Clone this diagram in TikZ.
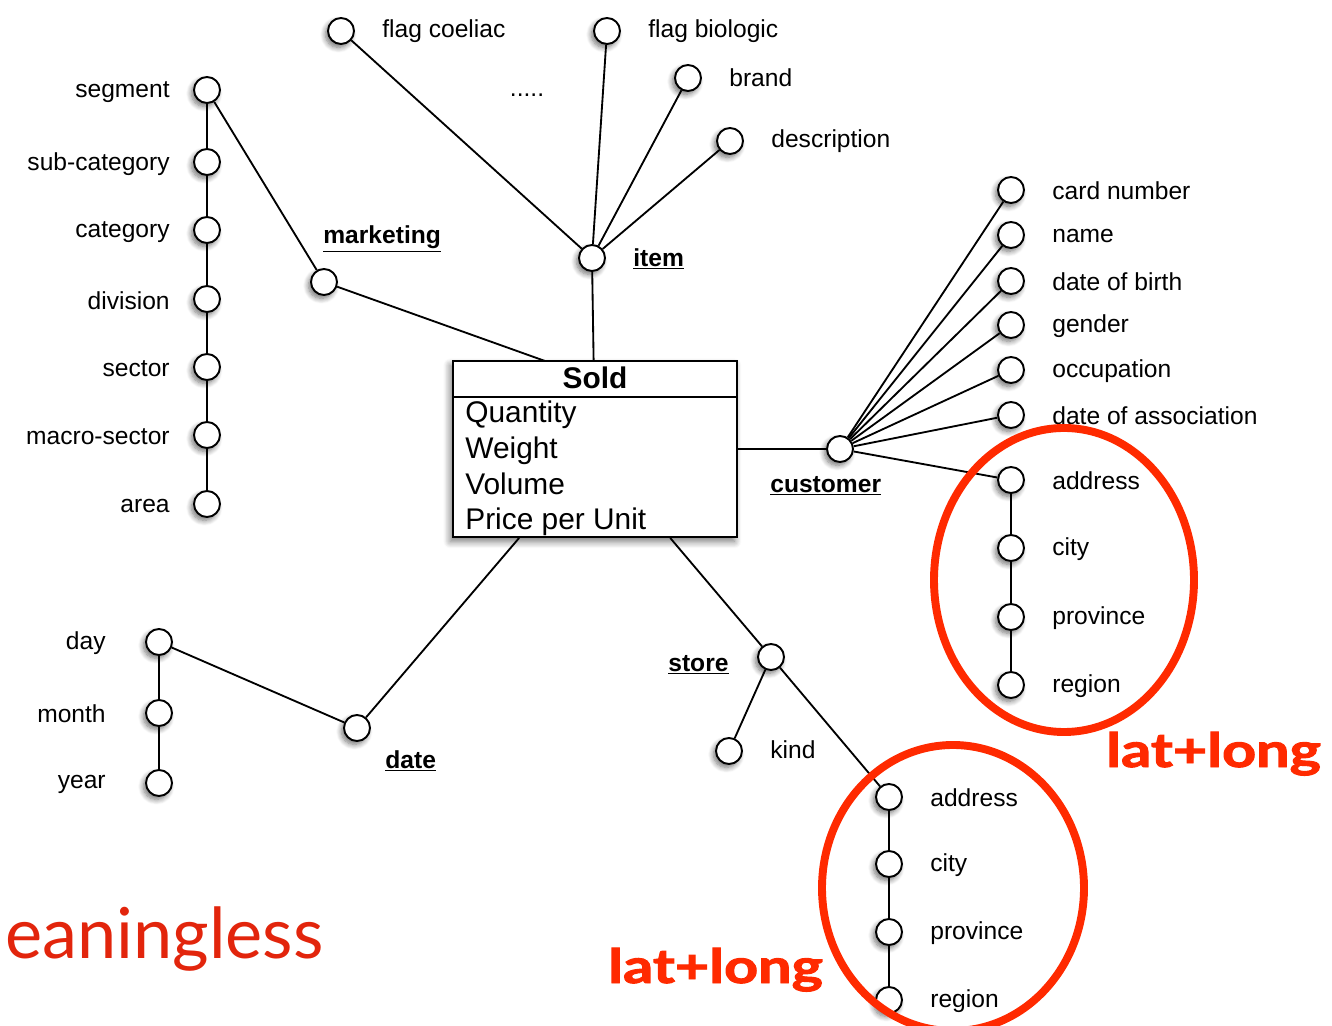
\documentclass[tikz,border=0pt]{standalone}
\usepackage{fontspec}
\setmainfont{Liberation Sans}
\newfontfamily\gillfont[BoldFeatures={FakeBold=2}]{Lato}
\usetikzlibrary{shadows.blur}
\definecolor{markred}{HTML}{FF2A00}
\definecolor{wordred}{HTML}{E2250C}

\begin{document}
\begin{tikzpicture}[x=0.02cm,y=-0.02cm]
	\tikzstyle{attr} = [circle,draw=black,line width=1.1pt,fill=white,minimum size=0.52cm,inner sep=0pt,
		blur shadow={shadow xshift=-1.5pt,shadow yshift=-2pt,shadow blur radius=3pt,shadow blur steps=8,shadow opacity=55}]
	\tikzstyle{rtext} = [anchor=west,inner sep=0pt,font=\fontsize{14}{16}\selectfont]
	\tikzstyle{ltext} = [anchor=east,inner sep=0pt,font=\fontsize{14}{16}\selectfont]
	\tikzstyle{dim} = [anchor=west,inner sep=0pt,font=\fontsize{14}{16}\selectfont\bfseries]
	\tikzstyle{link} = [line width=1.05pt]
	\tikzstyle{zone} = [draw=markred,line width=4.5pt]
	\tikzstyle{note} = [anchor=base west,inner sep=0pt,text=markred,font=\gillfont\bfseries\fontsize{27}{30}\selectfont]
	\useasboundingbox (0,0) rectangle (1332,1026);
	% fact
	\node[draw,line width=1.1pt,fill=white,minimum width=5.68cm,minimum height=3.52cm,
		blur shadow={shadow xshift=-1.5pt,shadow yshift=-2.5pt,shadow blur radius=4pt,shadow blur steps=8,shadow opacity=55}] (sold) at (595,449) {};
	\draw[line width=1.1pt] (453,397) -- (737,397);
	\node[font=\fontsize{17}{20}\selectfont\bfseries] (sold-title) at (595,378) {Sold};
	\node[anchor=north west,align=left,inner sep=0pt,font=\fontsize{17}{20.3}\selectfont] (sold-attr) at (465,401)
		{Quantity\\Weight\\Volume\\Price per Unit};
	\coordinate (sold-mkt) at (545,361);
	% marketing
	\node[attr] (mkt) at (324,282) {};
	\node[dim] (mkt-l) at (323,239) {\underline{marketing}};
	\foreach \i/\y/\t in {1/90/segment,2/162/sub-category,3/230/category,4/299/division,5/367/sector,6/435/macro-sector,7/504/area}
	{
		\node[attr] (mkt\i) at (207,\y) {};
		\node[ltext] (mkt\i-l) at (170,\y+2) {\t};
	}
	\foreach \i [evaluate=\i as \j using int(\i+1)] in {1,...,6}
		\draw[link] (mkt\i) -- (mkt\j);
	\draw[link] (mkt1) -- (mkt);
	\draw[link] (mkt) -- (sold-mkt);
	% item
	\node[attr] (item) at (592,258) {};
	\node[dim] (item-l) at (633,259) {\underline{item}};
	\foreach \i/\x/\y/\t in {1/341/31/flag coeliac,2/607/31/flag biologic,3/688/78/brand,4/730/141/description}
	{
		\node[attr] (item\i) at (\x,\y) {};
		\node[rtext] (item\i-l) at (\x+41,\y) {\t};
		\draw[link] (item) -- (item\i);
	}
	\node[anchor=base,inner sep=0pt,font=\fontsize{14}{16}\selectfont] (item-more) at (527,97) {.....};
	\draw[link] (item) -- (sold);
	% customer
	\node[attr] (cust) at (840,449) {};
	\node[dim] (cust-l) at (770,486) {\underline{customer}};
	\foreach \i/\y/\t in {1/190/card number,2/235/name,3/281/date of birth,4/325/gender,5/370/occupation,6/415/date of association}
	{
		\node[attr] (cust\i) at (1011,\y) {};
		\node[rtext] (cust\i-l) at (1052,\y+1) {\t};
		\draw[link] (cust) -- (cust\i);
	}
	\foreach \i/\y/\t in {1/480/address,2/548/city,3/617/province,4/685/region}
	{
		\node[attr] (caddr\i) at (1011,\y) {};
		\node[rtext] (caddr\i-l) at (1052,\y+1) {\t};
	}
	\foreach \i [evaluate=\i as \j using int(\i+1)] in {1,...,3}
		\draw[link] (caddr\i) -- (caddr\j);
	\draw[link] (cust) -- (caddr1);
	\draw[link] (sold) -- (cust);
	% store
	\node[attr] (store) at (771,657) {};
	\node[dim] (store-l) at (668,665) {\underline{store}};
	\node[attr] (kind) at (729,751) {};
	\node[rtext] (kind-l) at (770,750) {kind};
	\foreach \i/\y/\t in {1/797/address,2/864/city,3/932/province,4/1000/region}
	{
		\node[attr] (saddr\i) at (889,\y) {};
		\node[rtext] (saddr\i-l) at (930,\y+1) {\t};
	}
	\foreach \i [evaluate=\i as \j using int(\i+1)] in {1,...,3}
		\draw[link] (saddr\i) -- (saddr\j);
	\draw[link] (store) -- (kind);
	\draw[link] (store) -- (saddr1);
	\draw[link] (sold) -- (store);
	% date
	\node[attr] (date) at (357,728) {};
	\node[dim] (date-l) at (385,761) {\underline{date}};
	\foreach \i/\y/\t in {1/642/day,2/713/month,3/783/year}
	{
		\node[attr] (date\i) at (159,\y) {};
		\node[ltext] (date\i-l) at (106,\y+1) {\t};
	}
	\foreach \i [evaluate=\i as \j using int(\i+1)] in {1,2}
		\draw[link] (date\i) -- (date\j);
	\draw[link] (date1) -- (date);
	\draw[link] (sold) -- (date);
	% notes
	\draw[zone] (1064,580) ellipse [x radius=130, y radius=152];
	\draw[zone] (953,888) ellipse [x radius=131, y radius=143];
	\node[note] (note-cust) at (1106,767) {\scalebox{1.25}[1]{lat+long}};
	\node[note] (note-store) at (608,983) {\scalebox{1.25}[1]{lat+long}};
	\node[anchor=base west,inner sep=0pt,text=wordred,font=\gillfont\fontsize{40}{44}\selectfont] (note-left) at (5,958) {eaningless};
\end{tikzpicture}
\end{document}
